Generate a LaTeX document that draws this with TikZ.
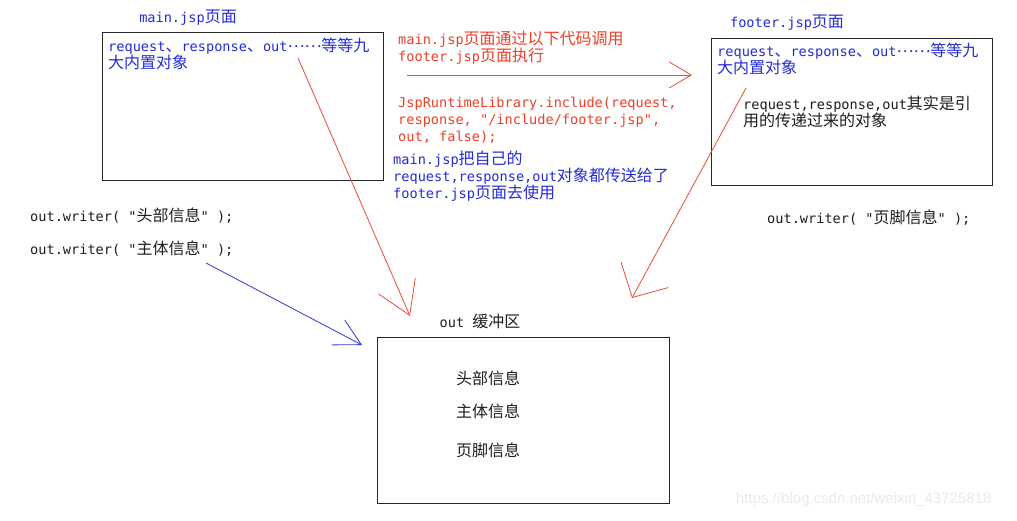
\documentclass[tikz,border=0pt]{standalone}
\usepackage{fontspec}
\newfontfamily\cjk{Noto Sans CJK SC}
\newfontfamily\codefont{DejaVu Sans Mono}
\newfontfamily\wmfont{Liberation Sans}
\newcommand\zh[1]{{\cjk\fontsize{16}{16.8}\selectfont #1}}
\newcommand\middots{\raisebox{0.3em}{\zh{……}}}
\usetikzlibrary{arrows.meta,positioning}
\definecolor{penred}{RGB}{232,78,62}
\definecolor{txtred}{RGB}{238,64,40}
\definecolor{txtblue}{RGB}{36,44,214}
\definecolor{penblue}{RGB}{50,56,210}
\definecolor{ink}{RGB}{30,30,30}
\tikzset{
  pagebox/.style={draw=black!85,line width=0.9pt,inner sep=0pt},
  txt/.style={inner sep=0pt,align=left,font=\codefont\fontsize{13.6}{16.8}\selectfont},
  note/.style={txt,anchor=north west},
  redpen/.style={draw=penred,line width=0.8pt},
  bluepen/.style={draw=penblue,line width=0.8pt}
}
\begin{document}
\begin{tikzpicture}[x=1pt,y=-1pt]
\useasboundingbox[fill=white] (0,0) rectangle (1017,520);
% main.jsp
\node[txt,txtblue] (mainlbl) at (188,18) {main.jsp\zh{页面}};
\node[pagebox,minimum width=281,minimum height=148] (mainbox) at (242.5,106) {};
\node[note,txtblue] (mainobj) at (108,38) {request\zh{、}response\zh{、}out\middots\zh{等等九}\\\zh{大内置对象}};
\node[txt,ink,anchor=west] (wrhead) at (30,216) {out.writer( "\zh{头部信息}" );};
\node[txt,ink,anchor=west] (wrbody) at (30,249) {out.writer( "\zh{主体信息}" );};
% include call
\node[note,txtred] (callnote) at (398,31) {main.jsp\zh{页面通过以下代码调用}\\footer.jsp\zh{页面执行}};
\node[note,txtred] (callcode) at (398,97) {JspRuntimeLibrary.include(request,\\response, "/include/footer.jsp",\\out, false);};
\node[note,txtblue] (passnote) at (393,151) {main.jsp\zh{把自己的}\\request,response,out\zh{对象都传送给了}\\footer.jsp\zh{页面去使用}};
% footer.jsp
\node[txt,txtblue] (footlbl) at (787,23) {footer.jsp\zh{页面}};
\node[pagebox,minimum width=281,minimum height=147] (footbox) at (851.5,111.5) {};
\node[note,txtblue] (footobj) at (717,43) {request\zh{、}response\zh{、}out\middots\zh{等等九}\\\zh{大内置对象}};
\node[note,ink] (footref) at (743,96) {request,response,out\zh{其实是引}\\\zh{用的传递过来的对象}};
\node[txt,ink,anchor=west] (wrfoot) at (767,218) {out.writer( "\zh{页脚信息}" );};
% out buffer
\node[txt,ink] (buflbl) at (480,321) {out \zh{缓冲区}};
\node[pagebox,minimum width=292,minimum height=166] (bufbox) at (523,420) {};
\node[txt,ink] (bufhead) at (488,378) {\zh{头部信息}};
\node[txt,ink] (bufbody) at (488,411) {\zh{主体信息}};
\node[txt,ink] (buffoot) at (488,450) {\zh{页脚信息}};
\node[inner sep=0pt,anchor=west,text=black!8,font=\wmfont\fontsize{15}{17}\selectfont] (mark) at (736,500) {https://blog.csdn.net/weixin\_43725818};
% connectors
\coordinate (callstart) at (407,75);
\coordinate (callend) at (692,75);
\coordinate (mainout) at (298,58);
\coordinate (mainin) at (410,316);
\coordinate (footout) at (746,88);
\coordinate (footin) at (632,298);
\coordinate (bodyout) at (206,263);
\coordinate (bodyin) at (362,345);
\draw[redpen,-{Straight Barb[length=22pt,width=26pt]}] (callstart) -- (callend);
\draw[redpen,-{Straight Barb[length=32pt,width=40pt]}] (mainout) -- (mainin);
\draw[redpen,-{Straight Barb[length=26pt,width=54pt]}] (footout) -- (footin);
\draw[bluepen,-{Straight Barb[length=26pt,width=28pt]}] (bodyout) -- (bodyin);
\end{tikzpicture}
\end{document}
